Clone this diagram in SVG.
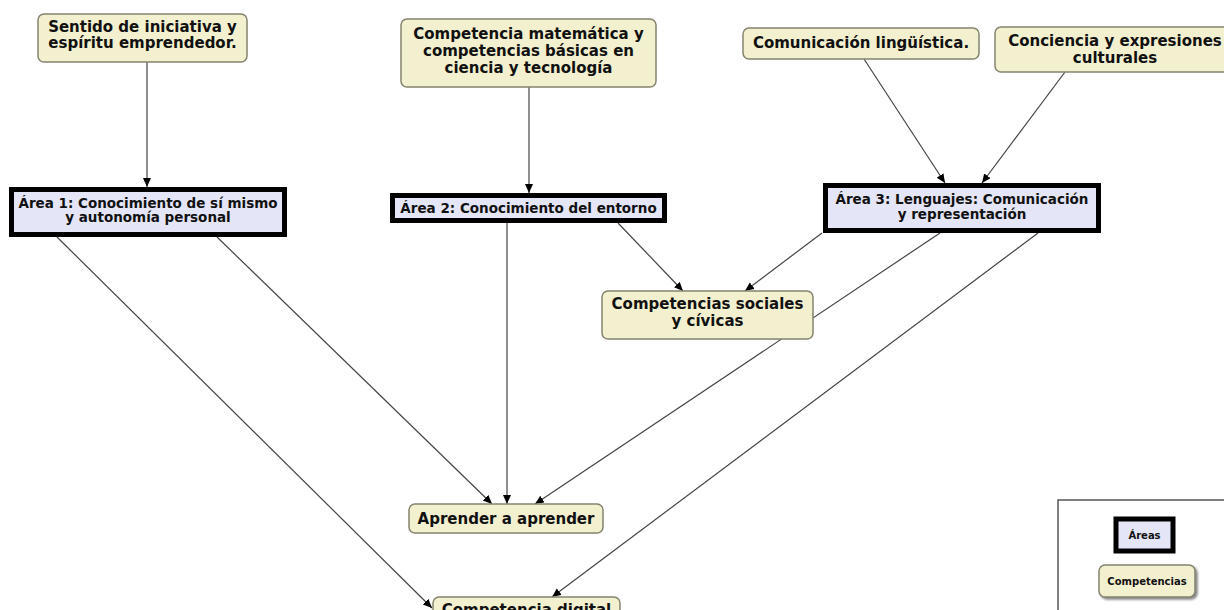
<svg xmlns="http://www.w3.org/2000/svg" width="1224" height="610" viewBox="0 0 1224 610">
  <defs>
    <style>
      .comp { fill: #f3f0cf; stroke: #85846f; stroke-width: 1.5; }
      .area { fill: #e4e5f7; stroke: #000; stroke-width: 5; }
      .t { font-family: "DejaVu Sans", Verdana, sans-serif; font-weight: bold; fill: #111; text-anchor: middle; }
      .tc { font-size: 15px; }
      .ta { font-size: 13.5px; }
      .tl { font-size: 10px; }
      .edge { fill: none; stroke: #444; stroke-width: 1.2; marker-end: url(#arrow); }
    </style>
    <marker id="arrow" markerUnits="userSpaceOnUse" markerWidth="10" markerHeight="9" refX="9" refY="4" orient="auto">
      <path d="M0,0 L9,4 L0,8 z" fill="#000"/>
    </marker>
    <filter id="shadow" x="-20%" y="-20%" width="150%" height="160%">
      <feDropShadow dx="2" dy="2" stdDeviation="1" flood-color="#555" flood-opacity="0.7"/>
    </filter>
  </defs>
  <rect width="1224" height="610" fill="#fff"/>

  <!-- connectors -->
  <g id="connectors">
    <line class="edge" x1="147" y1="62" x2="147" y2="187"/>
    <line class="edge" x1="529" y1="87" x2="529" y2="193"/>
    <line class="edge" x1="864" y1="59" x2="945" y2="183"/>
    <line class="edge" x1="1065" y1="72" x2="982" y2="183"/>
    <line class="edge" x1="618" y1="223" x2="683" y2="291"/>
    <line class="edge" x1="822" y1="233" x2="745" y2="291"/>
    <line class="edge" x1="940" y1="233" x2="535" y2="504"/>
    <line class="edge" x1="1038" y1="233" x2="552" y2="597"/>
    <line class="edge" x1="217" y1="237" x2="492" y2="504"/>
    <line class="edge" x1="57" y1="237" x2="432" y2="608"/>
    <line class="edge" x1="507" y1="223" x2="507" y2="504"/>
  </g>

  <!-- competencias -->
  <g id="sentido">
    <rect class="comp" x="38" y="14" width="209" height="48" rx="6"/>
    <text class="t tc" x="142.5" y="32">Sentido de iniciativa y</text>
    <text class="t tc" x="142.5" y="48">espíritu emprendedor.</text>
  </g>
  <g id="matematica">
    <rect class="comp" x="401" y="19" width="255" height="68" rx="6"/>
    <text class="t tc" x="528.5" y="39">Competencia matemática y</text>
    <text class="t tc" x="528.5" y="56">competencias básicas en</text>
    <text class="t tc" x="528.5" y="73">ciencia y tecnología</text>
  </g>
  <g id="linguistica">
    <rect class="comp" x="743" y="28" width="236" height="31" rx="6"/>
    <text class="t tc" x="861" y="48">Comunicación lingüística.</text>
  </g>
  <g id="conciencia">
    <rect class="comp" x="995" y="27" width="242" height="45" rx="6"/>
    <text class="t tc" x="1115" y="46">Conciencia y expresiones</text>
    <text class="t tc" x="1115" y="63">culturales</text>
  </g>
  <g id="sociales">
    <rect class="comp" x="602" y="291" width="211" height="48" rx="6"/>
    <text class="t tc" x="707.5" y="309">Competencias sociales</text>
    <text class="t tc" x="707.5" y="326">y cívicas</text>
  </g>
  <g id="aprender">
    <rect class="comp" x="409" y="504" width="194" height="29" rx="6"/>
    <text class="t tc" x="506" y="524">Aprender a aprender</text>
  </g>
  <g id="digital">
    <rect class="comp" x="433" y="597" width="187" height="30" rx="6"/>
    <text class="t tc" x="526.5" y="615">Competencia digital</text>
  </g>

  <!-- áreas -->
  <g id="area1">
    <rect class="area" x="11.5" y="189.5" width="273" height="45"/>
    <text class="t ta" x="148" y="208">Área 1: Conocimiento de sí mismo</text>
    <text class="t ta" x="148" y="222">y autonomía personal</text>
  </g>
  <g id="area2">
    <rect class="area" x="392.5" y="195.5" width="272" height="25"/>
    <text class="t ta" x="528.5" y="213">Área 2: Conocimiento del entorno</text>
  </g>
  <g id="area3">
    <rect class="area" x="825.5" y="185.5" width="273" height="45"/>
    <text class="t ta" x="962" y="204">Área 3: Lenguajes: Comunicación</text>
    <text class="t ta" x="962" y="219">y representación</text>
  </g>

  <!-- leyenda -->
  <g id="legend">
    <rect x="1058" y="500" width="200" height="130" fill="#fff" stroke="#555" stroke-width="1.5"/>
    <rect class="area" x="1116" y="519" width="57" height="32" stroke-width="4"/>
    <text class="t tl" x="1144.5" y="539">Áreas</text>
    <rect class="comp" x="1099" y="565" width="96" height="32" rx="6" filter="url(#shadow)"/>
    <text class="t tl" x="1147" y="585">Competencias</text>
  </g>
</svg>
